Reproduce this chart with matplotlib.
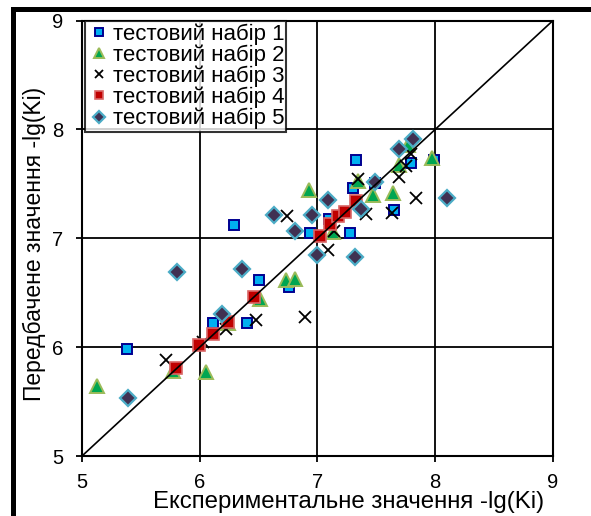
import matplotlib
matplotlib.use("Agg")
import matplotlib.pyplot as plt
from matplotlib.patches import Rectangle

plt.rcParams['font.family'] = ['Liberation Sans', 'DejaVu Sans']

labels = ["тестовий набір 1", "тестовий набір 2", "тестовий набір 3",
          "тестовий набір 4", "тестовий набір 5"]

s1_x = [5.38, 5.80, 6.11, 6.40, 6.29, 6.50, 6.76, 6.94, 7.10, 7.28, 7.30, 7.33, 7.49, 7.65, 7.79, 7.99]
s1_y = [5.98, 5.81, 6.22, 6.22, 7.12, 6.62, 6.55, 7.05, 7.18, 7.05, 7.46, 7.72, 7.51, 7.26, 7.69, 7.72]

s2_x = [5.13, 5.77, 6.05, 6.24, 6.51, 6.73, 6.81, 6.93, 7.13, 7.34, 7.47, 7.64, 7.69, 7.77, 7.97]
s2_y = [5.64, 5.78, 5.77, 6.22, 6.44, 6.62, 6.63, 7.44, 7.06, 7.53, 7.40, 7.42, 7.67, 7.86, 7.74]

s3_x = [5.71, 6.03, 6.22, 6.48, 6.89, 6.74, 7.09, 7.14, 7.34, 7.41, 7.63, 7.69, 7.75, 7.79, 7.84]
s3_y = [5.88, 6.05, 6.17, 6.25, 6.28, 7.20, 6.89, 7.07, 7.54, 7.22, 7.23, 7.56, 7.66, 7.77, 7.37]

s4_x = [5.80, 5.99, 6.11, 6.24, 6.46, 7.02, 7.11, 7.17, 7.23, 7.33]
s4_y = [5.81, 6.02, 6.12, 6.23, 6.46, 7.02, 7.13, 7.20, 7.24, 7.34]

s5_x = [5.39, 5.81, 6.19, 6.36, 6.63, 6.81, 6.95, 7.00, 7.09, 7.32, 7.37, 7.49, 7.69, 7.81, 8.10]
s5_y = [5.53, 6.69, 6.30, 6.72, 7.21, 7.07, 7.21, 6.85, 7.35, 6.83, 7.27, 7.52, 7.82, 7.91, 7.37]

diag = [5, 9]
ticks = [5, 6, 7, 8, 9]

W, H = 591, 516
fig = plt.figure(figsize=(W / 100, H / 100), dpi=100)
ax = fig.add_axes([82 / W, 1 - 456 / H, (553 - 82) / W, (456 - 20.5) / H])

ax.plot(s1_x, s1_y, ls='none', marker='s', ms=7.6, mfc='#00B0F0', mec='#000090', mew=1.4,
        label=labels[0], zorder=3)
ax.plot(s2_x, s2_y, ls='none', marker='^', ms=10.5, mfc='#00A651', mec='#9BBB59', mew=1.4,
        label=labels[1], zorder=3)
ax.plot(s3_x, s3_y, ls='none', marker='x', ms=8, mec='black', mew=1.3,
        label=labels[2], zorder=3)
ax.plot(s4_x, s4_y, ls='none', marker='s', ms=8, mfc='#C00000', mec='#D96666', mew=1.2,
        label=labels[3], zorder=3)
ax.plot(s5_x, s5_y, ls='none', marker='D', ms=8, mfc='#403152', mec='#4BACC6', mew=1.6,
        label=labels[4], zorder=3)

ax.plot(diag, diag, color='black', lw=1.2, zorder=4)

ax.set_xlim(5, 9)
ax.set_ylim(5, 9)
ax.set_xticks(ticks)
ax.set_yticks(ticks)
ax.grid(True, color='black', lw=1.3, zorder=1)
ax.set_axisbelow(True)
for sp in ax.spines.values():
    sp.set_linewidth(1.5)
ax.tick_params(direction='out', length=4.5, width=1.3, labelsize=14.5)
ax.tick_params(axis='x', pad=8)
ax.tick_params(axis='y', pad=9)

ax.set_xlabel("Експериментальне значення -lg(Ki)", fontsize=17.3)
ax.set_ylabel("Передбачене значення -lg(Ki)", fontsize=16.5)
ax.xaxis.set_label_coords(0.565, -0.081)
ax.yaxis.set_label_coords(-0.076, 0.486)

leg = ax.legend(loc='upper left', bbox_to_anchor=(0.006, 0.998), fontsize=16,
                frameon=True, fancybox=False, borderaxespad=0, borderpad=0.1,
                handlelength=1.06, handletextpad=0.09, labelspacing=-0.02,
                markerscale=0.75)
leg.get_frame().set_edgecolor('black')
leg.get_frame().set_linewidth(1.5)
leg.set_zorder(5)

# outer chart border (top and left visible)
fig.add_artist(Rectangle((12.5 / W, -0.1), 1.2, 1 - 9 / H + 0.1, transform=fig.transFigure,
                         fill=False, edgecolor='black', lw=3.6, clip_on=False))

fig.savefig("out.png", dpi=100)
